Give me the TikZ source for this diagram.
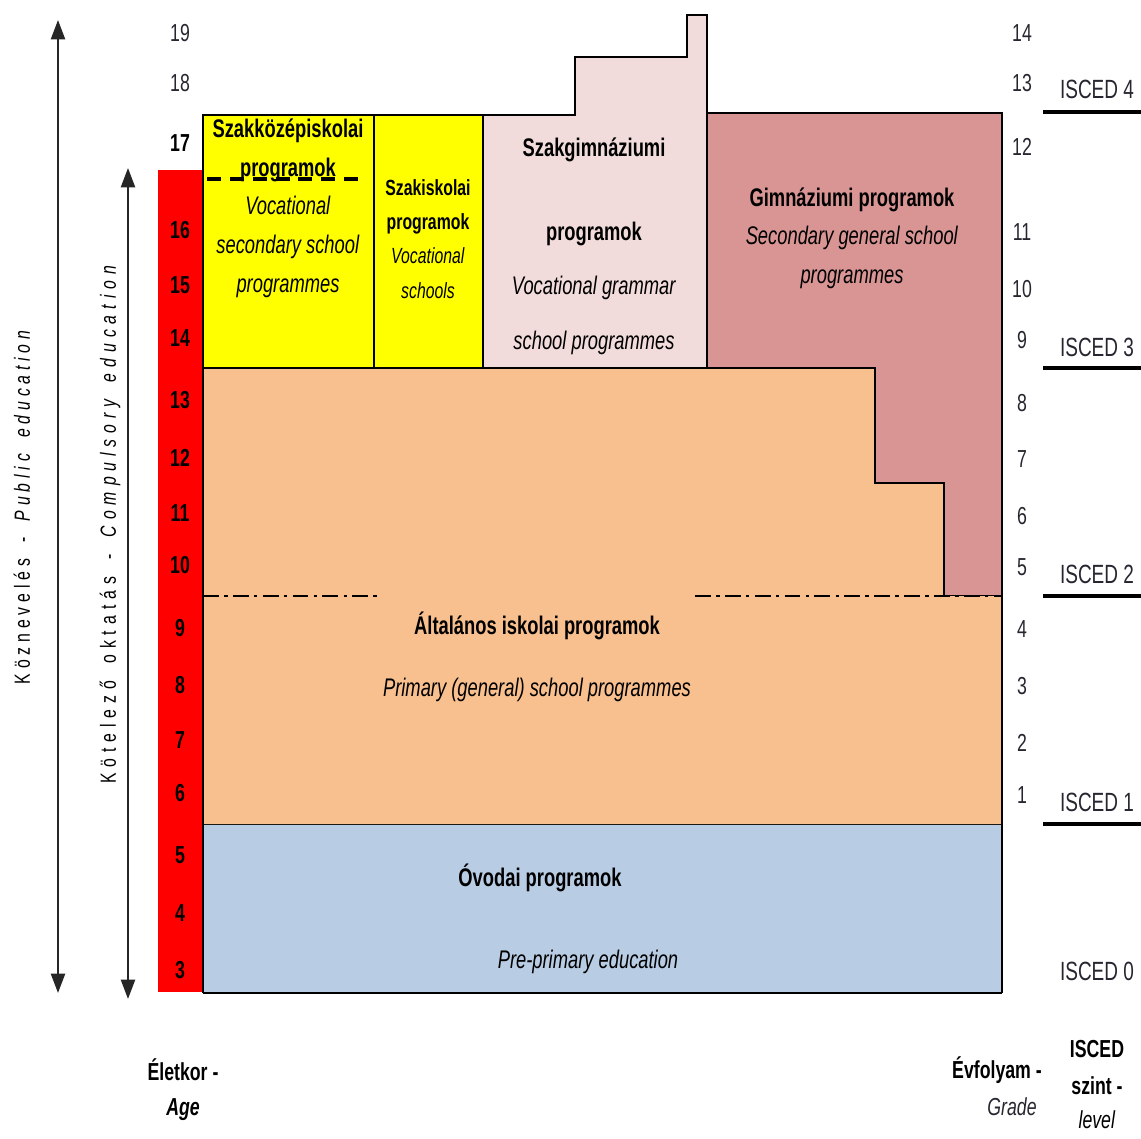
\documentclass[tikz,border=0pt]{standalone}
\usepackage{fontspec}
\setmainfont{Liberation Sans}[FakeStretch=0.72]
\newfontfamily\spacedfont{Liberation Sans}[FakeStretch=0.72,LetterSpace=22]
\newfontfamily\widerfont{Liberation Sans}[FakeStretch=0.72,LetterSpace=27]
\usepackage{tikz}
\usetikzlibrary{positioning}
\usetikzlibrary{arrows.meta}
\definecolor{agered}{HTML}{FF0000}
\definecolor{vocyellow}{HTML}{FFFF00}
\definecolor{vocpink}{HTML}{F2DCDB}
\definecolor{genrose}{HTML}{D99594}
\definecolor{primorange}{HTML}{F8BF8F}
\definecolor{preblue}{HTML}{B8CCE4}
\definecolor{labelgray}{HTML}{262630}
\tikzset{
	progbox/.style={draw=black, line width=1pt}, % outline of a programme block
	prog/.style={
			align=center,
			inner sep=0pt,
			font=\fontsize{14.5}{22}\selectfont
		},
	agenum/.style={font=\fontsize{14}{16}\selectfont\bfseries},
	gradenum/.style={font=\fontsize{14}{16}\selectfont, text=labelgray},
	iscedlbl/.style={font=\fontsize{15}{16}\selectfont, text=labelgray},
	iscedline/.style={line width=2.4pt},
	levelline/.style={ % dash-dot border between primary and lower secondary
			line width=1.5pt,
			dash pattern=on 9pt off 3pt on 2pt off 3pt
		},
	biarrow/.style={
			{Triangle[width=8pt,length=11pt]}-{Triangle[width=8pt,length=11pt]},
			line width=1.2pt,
			black!85
		},
	axislbl/.style={font=\fontsize{14}{17}\selectfont}
}

\begin{document}
\begin{tikzpicture}[x=0.02cm, y=-0.02cm]
	\useasboundingbox (0,0) rectangle (1141,1138);
	\fill[agered] (158,170) rectangle (203,992);
	\fill[preblue] (203,824) rectangle (1002,993);
	\draw[line width=1.6pt] (203,824) -- (1002,824);
	\draw[line width=1.6pt] (203,993) -- (1002,993);
	\filldraw[fill=genrose, progbox] (707,113) rectangle (1002,596);
	\filldraw[fill=vocpink, progbox] (483,368) -- (483,115) -- (575,115) -- (575,57) -- (687,57) -- (687,15) -- (707,15) -- (707,368) -- cycle;
	\filldraw[fill=vocyellow, progbox] (203,115) rectangle (374,368);
	\filldraw[fill=vocyellow, progbox] (374,115) rectangle (483,368);
	\fill[primorange] (203,368) -- (875,368) -- (875,483) -- (944,483) -- (944,596) -- (1002,596) -- (1002,824) -- (203,824) -- cycle;
	\draw[progbox] (203,824) -- (203,368) -- (875,368) -- (875,483) -- (944,483) -- (944,596);
	\draw[progbox] (1002,113) -- (1002,993);
	\draw[progbox] (203,824) -- (203,993);
	\draw[levelline] (203,596) -- (378,596);
	\draw[levelline] (695,596) -- (1002,596);
	\draw[line width=2pt, dash pattern=on 8pt off 5pt] (207,179) -- (362,179);

	\node[prog] (szakkozep) at (288,208) {\textbf{Szakközépiskolai}\\ \textbf{programok}\\ \textit{Vocational}\\ \textit{secondary school}\\ \textit{programmes}};
	\node[prog, font=\fontsize{12.5}{19.5}\selectfont] (szakisk) at (428,239) {\textbf{Szakiskolai}\\ \textbf{programok}\\ \textit{Vocational}\\ \textit{schools}};
	\node[prog, font=\fontsize{14.5}{31}\selectfont] (szakgimn) at (594,246) {\textbf{Szakgimnáziumi}\\[17pt] \textbf{programok}\\ \textit{Vocational grammar}\\ \textit{school programmes}};
	\node[prog] (gimn) at (852,238) {\textbf{Gimnáziumi programok}\\ \textit{Secondary general school}\\ \textit{programmes}};
	\node[prog, font=\fontsize{14.5}{35}\selectfont] (altalanos) at (537,657) {\textbf{Általános iskolai programok}\\ \textit{Primary (general) school programmes}};
	\node[prog] (ovoda) at (540,878) {\textbf{Óvodai programok}};
	\node[prog] (ovodaeng) at (588,962) {\textit{Pre-primary education}};

	\foreach \a/\y in {16/230,15/285,14/338,13/400,12/458,11/513,10/565,9/628,8/685,7/740,6/793,5/855,4/913,3/970}
		\node[agenum] (age\a) at (180,\y) {\a};
	\node[agenum] (age17) at (180,143) {17};
	\node[gradenum] (age18) at (180,83) {18};
	\node[gradenum] (age19) at (180,33) {19};

	\foreach \g/\y in {14/33,13/83,12/147,11/232,10/289,9/340,8/403,7/459,6/516,5/567,4/629,3/686,2/743,1/795}
		\node[gradenum] (grade\g) at (1022,\y) {\g};

	\foreach \l/\y in {4/89,3/347,2/574,1/802,0/971}
		\node[iscedlbl] (isced\l) at (1097,\y) {ISCED \l};
	\foreach \y in {112,368,596,824}
		\draw[iscedline] (1043,\y) -- (1141,\y);

	\coordinate (pubtop) at (58,20);
	\coordinate (pubbot) at (58,993);
	\draw[biarrow] (pubtop) -- (pubbot);
	\node[rotate=90, font=\spacedfont\fontsize{12.5}{14}\selectfont] (pubtext) at (22,505) {Köznevelés\hspace{4pt} - \hspace{4pt}\textit{Public\hspace{4pt} education}};
	\coordinate (comptop) at (128,168);
	\coordinate (compbot) at (128,999);
	\draw[biarrow] (comptop) -- (compbot);
	\node[rotate=90, font=\widerfont\fontsize{12.5}{14}\selectfont] (comptext) at (110,522) {Kötelező\hspace{4pt} oktatás\hspace{4pt} - \hspace{4pt}\textit{Compulsory\hspace{4pt} education}};

	\node[axislbl] (eletkor) at (183,1070) {\textbf{Életkor -}};
	\node[axislbl, below=3pt of eletkor] (age) {\textbf{\textit{Age}}};
	\node[axislbl] (evfolyam) at (997,1070) {\textbf{Évfolyam -}};
	\node[axislbl, text=labelgray] (grade) at (1012,1107) {\textit{Grade}};
	\node[axislbl] (iscedhead) at (1097,1049) {\textbf{ISCED}};
	\node[axislbl, below=4pt of iscedhead] (szint) {\textbf{szint -}};
	\node[axislbl, below=2pt of szint] (level) {\textit{level}};
\end{tikzpicture}
\end{document}
